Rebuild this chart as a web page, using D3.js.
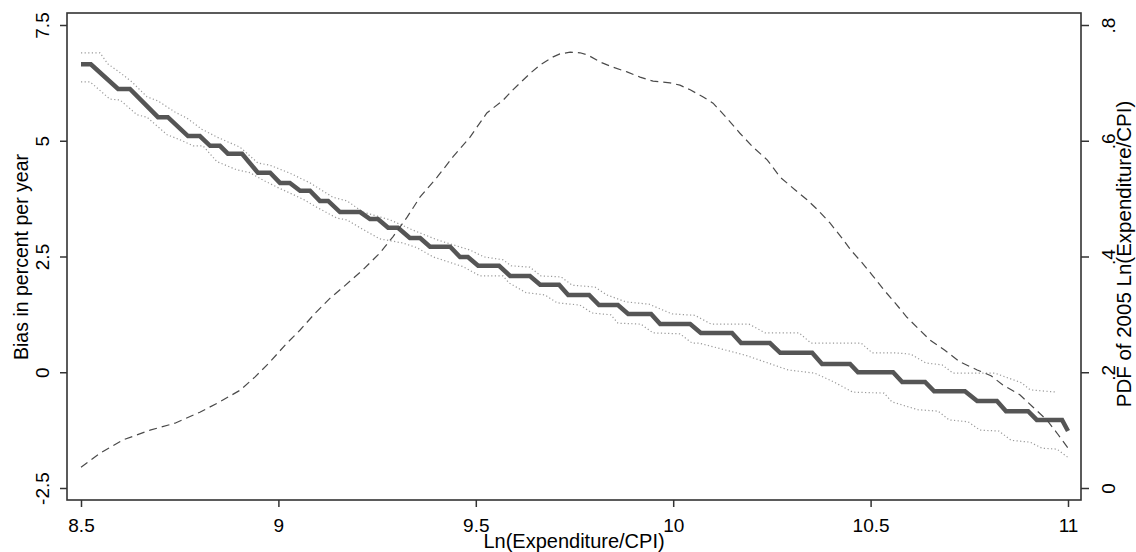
<!DOCTYPE html>
<html>
<head>
    <meta charset="utf-8">
    <script src="https://d3js.org/d3.v7.min.js"></script>
    <style>
        body{
            margin: 0;
            background: #fff;
        }
        svg{
            display: block;
            font-family: "Liberation Sans", Arial, sans-serif;
        }
        .tick text{
            fill: #000;
        }
        .tick line{
            stroke: #333;
            stroke-width: 1.5px;
        }
    </style>
    <title>Bias and PDF of Ln(Expenditure/CPI)</title>
</head>
<body>
    <div class="chart-wrap"></div>

    <script>
    // bias estimate: flat runs of the step line (x from, x to, level)
    var biasStepStart = [8.500, 8.594, 8.695, 8.771, 8.827, 8.872, 8.948, 9.004, 9.055, 9.105, 9.156,
        9.232, 9.278, 9.333, 9.384, 9.460, 9.506, 9.587, 9.663, 9.734, 9.812, 9.886, 9.967,
        10.070, 10.172, 10.271, 10.377, 10.468, 10.580, 10.661, 10.770, 10.843, 10.921];
    var biasStepEnd = [8.525, 8.624, 8.720, 8.801, 8.852, 8.908, 8.979, 9.029, 9.080, 9.126, 9.207,
        9.252, 9.303, 9.359, 9.435, 9.480, 9.559, 9.637, 9.711, 9.787, 9.860, 9.944, 10.043,
        10.149, 10.245, 10.352, 10.448, 10.557, 10.638, 10.739, 10.820, 10.899, 10.985];
    var biasLevel = [6.65, 6.12, 5.51, 5.10, 4.89, 4.72, 4.31, 4.09, 3.92, 3.70, 3.46,
        3.31, 3.12, 2.90, 2.71, 2.49, 2.30, 2.08, 1.89, 1.67, 1.45, 1.26, 1.04,
        0.85, 0.63, 0.42, 0.18, 0.00, -0.21, -0.41, -0.62, -0.84, -1.03];
    var biasLast = [11.0, -1.27];

    // confidence band
    var upperX = [8.5, 8.548, 8.568, 8.599, 8.629, 8.667, 8.695, 8.738, 8.768, 8.806, 8.844, 8.903, 8.948,
        8.979, 9.029, 9.080, 9.138, 9.174, 9.214, 9.283, 9.341, 9.402, 9.485, 9.521, 9.569, 9.589,
        9.637, 9.665, 9.716, 9.744, 9.802, 9.832, 9.880, 9.939, 9.997, 10.055, 10.096, 10.192,
        10.233, 10.319, 10.349, 10.476, 10.504, 10.562, 10.602, 10.640, 10.681, 10.709, 10.815,
        10.883, 10.904, 10.972];
    var upperY = [6.90, 6.90, 6.66, 6.47, 6.27, 5.95, 5.86, 5.62, 5.49, 5.25, 5.08, 4.86, 4.52,
        4.47, 4.30, 4.09, 3.78, 3.70, 3.46, 3.29, 3.07, 2.86, 2.64, 2.49, 2.43, 2.30,
        2.27, 2.08, 2.06, 1.88, 1.84, 1.67, 1.52, 1.47, 1.26, 1.23, 1.04, 1.04,
        0.85, 0.85, 0.63, 0.63, 0.42, 0.42, 0.39, 0.20, 0.16, -0.02, -0.02,
        -0.23, -0.38, -0.43];
    var lowerX = [8.500, 8.523, 8.541, 8.573, 8.599, 8.642, 8.667, 8.718, 8.751, 8.784, 8.809, 8.844,
        8.895, 8.928, 8.961, 8.996, 9.062, 9.100, 9.148, 9.174, 9.207, 9.257, 9.316, 9.351, 9.392,
        9.468, 9.511, 9.569, 9.584, 9.627, 9.675, 9.706, 9.764, 9.794, 9.842, 9.860, 9.918, 9.949,
        10.017, 10.048, 10.065, 10.182, 10.240, 10.291, 10.359, 10.407, 10.455, 10.534, 10.554,
        10.620, 10.671, 10.699, 10.747, 10.777, 10.825, 10.856, 10.904, 10.934, 10.972, 11.0];
    var lowerY = [6.27, 6.27, 6.14, 5.90, 5.88, 5.56, 5.51, 5.13, 5.02, 4.89, 4.89, 4.55,
        4.37, 4.31, 4.15, 4.00, 3.74, 3.55, 3.33, 3.29, 3.12, 2.88, 2.79, 2.69, 2.49,
        2.28, 2.08, 2.08, 1.93, 1.72, 1.67, 1.50, 1.45, 1.28, 1.24, 1.06, 1.04, 0.85,
        0.83, 0.63, 0.63, 0.37, 0.20, 0.05, -0.02, -0.21, -0.43, -0.45, -0.64,
        -0.81, -0.84, -1.03, -1.07, -1.25, -1.27, -1.47, -1.51, -1.64, -1.66, -1.84];

    // density of 2005 ln(expenditure/CPI), right axis
    var pdfPoints = [[8.500, 0.036], [8.548, 0.060], [8.606, 0.083], [8.675, 0.100], [8.738, 0.112],
        [8.801, 0.131], [8.852, 0.149], [8.903, 0.169], [8.941, 0.192], [8.979, 0.218],
        [9.017, 0.247], [9.055, 0.273], [9.093, 0.302], [9.131, 0.328], [9.164, 0.347],
        [9.214, 0.377], [9.257, 0.406], [9.290, 0.434], [9.326, 0.468], [9.359, 0.503],
        [9.402, 0.537], [9.442, 0.572], [9.485, 0.606], [9.528, 0.648], [9.569, 0.670],
        [9.594, 0.688], [9.620, 0.705], [9.642, 0.719], [9.663, 0.731], [9.696, 0.745],
        [9.713, 0.750], [9.739, 0.753], [9.764, 0.752], [9.784, 0.748], [9.815, 0.736],
        [9.848, 0.727], [9.883, 0.719], [9.916, 0.710], [9.949, 0.703], [9.992, 0.700],
        [10.017, 0.696], [10.043, 0.688], [10.075, 0.676], [10.101, 0.665], [10.136, 0.639],
        [10.169, 0.613], [10.202, 0.589], [10.238, 0.567], [10.271, 0.537], [10.309, 0.515],
        [10.339, 0.498], [10.367, 0.480], [10.397, 0.458], [10.425, 0.434], [10.450, 0.411],
        [10.476, 0.391], [10.504, 0.368], [10.534, 0.342], [10.562, 0.320], [10.592, 0.295],
        [10.620, 0.276], [10.650, 0.256], [10.688, 0.238], [10.726, 0.218], [10.770, 0.204],
        [10.805, 0.194], [10.835, 0.178], [10.878, 0.161], [10.911, 0.140], [10.947, 0.117],
        [10.972, 0.095], [11.0, 0.069]];

    var xTicks = [8.5, 9, 9.5, 10, 10.5, 11];
    var xTickLabels = ["8.5", "9", "9.5", "10", "10.5", "11"];
    var leftTicks = [-2.5, 0, 2.5, 5, 7.5];
    var leftTickLabels = ["-2.5", "0", "2.5", "5", "7.5"];
    var rightTicks = [0, 0.2, 0.4, 0.6, 0.8];
    var rightTickLabels = ["0", ".2", ".4", ".6", ".8"];

    var w = 1136,
        h = 552;

    var svg = d3.select(".chart-wrap").append("svg")
        .attr("width", w)
        .attr("height", h);

    var x = d3.scaleLinear().domain([8.5, 11]).range([81, 1068]);
    var yLeft = d3.scaleLinear().domain([-2.5, 7.5]).range([488, 25]);
    var yRight = d3.scaleLinear().domain([0, 0.8]).range([488, 25]);

    // plot frame
    svg.append("rect")
        .attr("x", 67)
        .attr("y", 13)
        .attr("width", 1014)
        .attr("height", 487)
        .style("fill", "none")
        .style("stroke", "#333")
        .style("stroke-width", 1.6);

    // x axis
    svg.append("g")
        .attr("transform", "translate(0,500)")
        .call(d3.axisBottom(x).tickValues(xTicks).tickSize(7)
            .tickFormat(function (d, i) { return xTickLabels[i]; }))
        .call(function (g) { g.select(".domain").remove(); })
        .selectAll("text")
        .attr("y", 32)
        .attr("dy", 0)
        .style("font-size", "19px");

    // left axis, labels turned
    svg.append("g")
        .attr("transform", "translate(67,0)")
        .call(d3.axisLeft(yLeft).tickValues(leftTicks).tickSize(7)
            .tickFormat(function (d, i) { return leftTickLabels[i]; }))
        .call(function (g) { g.select(".domain").remove(); })
        .selectAll("text")
        .attr("transform", "rotate(-90)")
        .attr("x", 0)
        .attr("y", -18)
        .attr("dy", 0)
        .attr("text-anchor", "middle")
        .style("font-size", "19px");

    // right axis
    svg.append("g")
        .attr("transform", "translate(1081,0)")
        .call(d3.axisRight(yRight).tickValues(rightTicks).tickSize(8)
            .tickFormat(function (d, i) { return rightTickLabels[i]; }))
        .call(function (g) { g.select(".domain").remove(); })
        .selectAll("text")
        .attr("transform", "rotate(-90)")
        .attr("x", 0)
        .attr("y", 34)
        .attr("dy", 0)
        .attr("text-anchor", "middle")
        .style("font-size", "19px");

    svg.selectAll(".tick text").style("fill", "#000");

    // axis titles
    svg.append("text")
        .attr("transform", "translate(28,257) rotate(-90)")
        .attr("text-anchor", "middle")
        .style("font-size", "19.5px")
        .text("Bias in percent per year");

    svg.append("text")
        .attr("transform", "translate(1131,254) rotate(-90)")
        .attr("text-anchor", "middle")
        .style("font-size", "20.5px")
        .text("PDF of 2005 Ln(Expenditure/CPI)");

    svg.append("text")
        .attr("x", 574)
        .attr("y", 548)
        .attr("text-anchor", "middle")
        .style("font-size", "20px")
        .text("Ln(Expenditure/CPI)");

    // lines
    var lineLeft = d3.line()
        .x(function (d) { return x(d[0]); })
        .y(function (d) { return yLeft(d[1]); });

    var lineRight = d3.line()
        .x(function (d) { return x(d[0]); })
        .y(function (d) { return yRight(d[1]); });

    var upper = upperX.map(function (v, i) { return [v, upperY[i]]; });
    var lower = lowerX.map(function (v, i) { return [v, lowerY[i]]; });

    [upper, lower].forEach(function (band) {
        svg.append("path")
            .datum(band)
            .attr("d", lineLeft)
            .style("fill", "none")
            .style("stroke", "#9a9a9a")
            .style("stroke-width", 1.2)
            .style("stroke-dasharray", "1.2,2.4");
    });

    var bias = [];
    biasLevel.forEach(function (v, i) {
        bias.push([biasStepStart[i], v]);
        bias.push([biasStepEnd[i], v]);
    });
    bias.push(biasLast);

    svg.append("path")
        .datum(bias)
        .attr("d", lineLeft)
        .style("fill", "none")
        .style("stroke", "#555")
        .style("stroke-width", 4.5);

    svg.append("path")
        .datum(pdfPoints)
        .attr("d", lineRight)
        .style("fill", "none")
        .style("stroke", "#4a4a4a")
        .style("stroke-width", 1.2)
        .style("stroke-dasharray", "8,5");
    </script>
</body>
</html>
